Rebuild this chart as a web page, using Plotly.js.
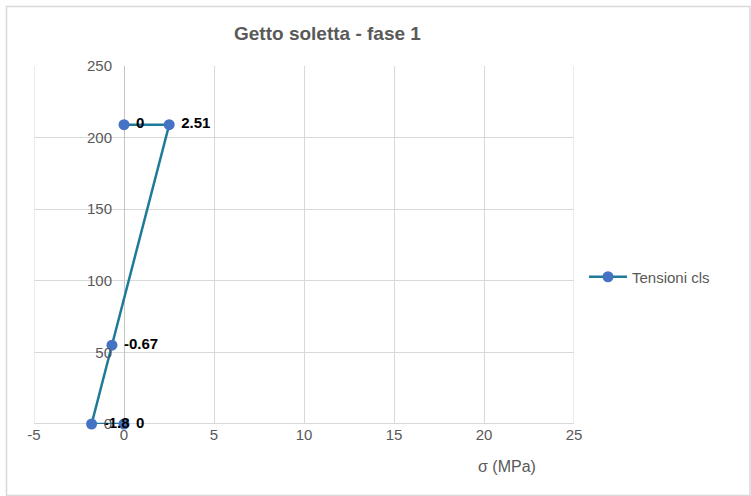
<!DOCTYPE html>
<html>
<head>
<meta charset="utf-8">
<script src="https://cdn.plot.ly/plotly-3.0.1.min.js"></script>
<style>html,body{margin:0;padding:0;background:#fff;}#chart{width:751px;height:496px;}</style>
</head>
<body>
<div id="chart"></div>
<script>
const seriesName = "Tensioni cls";
const sigma = [0, 2.51, -0.67, -1.8, 0];
const height = [209, 209, 55, 0, 0];
const pointLabels = ["0", "2.51", "-0.67", "-1.8", "0"];
const xTicks = [-5, 0, 5, 10, 15, 20, 25];
const yTicks = [0, 50, 100, 150, 200, 250];
const chartTitle = "Getto soletta - fase 1";
const xTitle = "σ (MPa)";

const font = "Liberation Sans, Arial, sans-serif";
const W = 751, H = 496;
const L = 34, R = 177, T = 66, B = 72;
const pw = W - L - R, ph = H - T - B;
const px = v => (v - L) / pw;
const py = v => (H - B - v) / ph;

const trace = {
  type: 'scatter', mode: 'lines+markers+text',
  x: sigma, y: height, name: seriesName,
  text: pointLabels.map(s => '\u00a0' + s), textposition: 'middle right',
  textfont: {family: font, size: 15, color: '#000', weight: 'bold'},
  line: {color: '#1f7a9a', width: 2.5},
  marker: {color: '#4472c4', size: 11},
  cliponaxis: false
};

const layout = {
  width: W, height: H,
  margin: {l: L, r: R, t: T, b: B},
  paper_bgcolor: '#fff', plot_bgcolor: '#fff',
  font: {family: font, color: '#595959', size: 15},
  showlegend: true,
  legend: {x: px(584), y: py(277), xanchor: 'left', yanchor: 'middle', itemwidth: 38,
           font: {family: font, size: 15, color: '#595959'}, bgcolor: 'rgba(0,0,0,0)'},
  xaxis: {range: [-5, 25], tickvals: xTicks, ticktext: xTicks.map(String),
          showgrid: true, gridcolor: '#d9d9d9', gridwidth: 1,
          zeroline: true, zerolinecolor: '#c4c4c4', zerolinewidth: 1,
          showline: false, ticks: '', tickfont: {size: 15, color: '#595959'}, fixedrange: true},
  yaxis: {range: [-0.01, 250], tickvals: yTicks, ticktext: yTicks.map(String),
          anchor: 'free', position: 1/6,
          showgrid: true, gridcolor: '#d9d9d9', gridwidth: 1,
          zeroline: true, zerolinecolor: '#d9d9d9', zerolinewidth: 1,
          showline: false, ticks: 'outside', ticklen: 9, tickcolor: 'rgba(0,0,0,0)',
          tickfont: {size: 15, color: '#595959'}, fixedrange: true},
  shapes: [
    {type: 'rect', xref: 'paper', yref: 'paper', x0: px(6.5), x1: px(750), y0: py(495.5), y1: py(6.5),
     line: {color: '#d9d9d9', width: 1.5}, fillcolor: 'rgba(0,0,0,0)', layer: 'below'},
    {type: 'line', xref: 'x', yref: 'paper', x0: -5, x1: -5, y0: 0, y1: 1, line: {color: '#d9d9d9', width: 1}},
    {type: 'line', xref: 'x', yref: 'paper', x0: 25, x1: 25, y0: 0, y1: 1, line: {color: '#d9d9d9', width: 1}}
  ],
  annotations: [
    {text: chartTitle, xref: 'paper', yref: 'paper', x: px(327), y: py(33),
     xanchor: 'center', yanchor: 'middle', showarrow: false,
     font: {family: font, size: 19, color: '#595959', weight: 'bold'}},
    {text: xTitle, xref: 'paper', yref: 'paper', x: px(507), y: py(466),
     xanchor: 'center', yanchor: 'middle', showarrow: false,
     font: {family: font, size: 16, color: '#595959'}}
  ]
};

Plotly.newPlot('chart', [trace], layout, {displayModeBar: false, staticPlot: true});
</script>
</body>
</html>
